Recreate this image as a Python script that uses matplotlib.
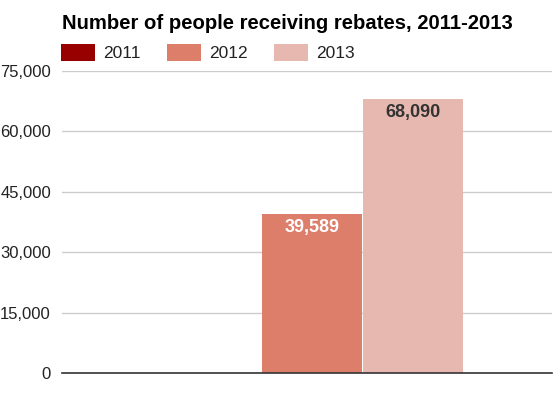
import numpy as np
import matplotlib.pyplot as plt
from matplotlib.patches import Patch
from matplotlib.ticker import FuncFormatter

# data
years = ['2011', '2012', '2013']
people = [0, 39589, 68090]
colors = ['#980000', '#dd7e6b', '#e6b8af']
label_colors = ['white', 'white', '#333333']

plt.rcParams['font.family'] = ['Liberation Sans', 'DejaVu Sans']

fig = plt.figure(figsize=(5.54, 3.98), dpi=100)
ax = fig.add_axes([0.112, 0.0628, 0.884, 0.7588])

x = np.arange(len(years))
bars = ax.bar(x, people, width=0.99, color=colors, zorder=2)

for b, v, c in zip(bars, people, label_colors):
    if v > 0:
        ax.annotate(f'{v:,}', (b.get_x() + b.get_width() / 2, v),
                    xytext=(0, -4), textcoords='offset points',
                    ha='center', va='top', fontsize=13, fontweight='bold', color=c)

ax.set_ylim(0, 75000)
ax.set_yticks(np.arange(0, 75001, 15000))
ax.yaxis.set_major_formatter(FuncFormatter(lambda v, p: f'{int(v):,}'))
ax.set_xlim(-1.48, 3.37)
ax.set_xticks([])
ax.grid(axis='y', color='#cccccc', linewidth=1, zorder=0)
ax.tick_params(axis='y', length=0, labelsize=12, labelcolor='#222222', pad=8)
for s in ['top', 'right', 'left']:
    ax.spines[s].set_visible(False)
ax.spines['bottom'].set_color('#333333')
ax.spines['bottom'].set_linewidth(1.2)
ax.spines['bottom'].set_zorder(3)

fig.text(0.112, 0.94, 'Number of people receiving rebates, 2011-2013',
         fontsize=14.6, fontweight='bold', ha='left', va='center')

handles = [Patch(facecolor=c, label=y) for c, y in zip(colors, years)]
fig.legend(handles=handles, loc='center left', bbox_to_anchor=(0.082, 0.868),
           ncol=3, frameon=False, fontsize=12.5, handlelength=1.95, handleheight=1.1,
           columnspacing=1.55, handletextpad=0.45, labelcolor='#222222')

fig.savefig('out.png', dpi=100)
